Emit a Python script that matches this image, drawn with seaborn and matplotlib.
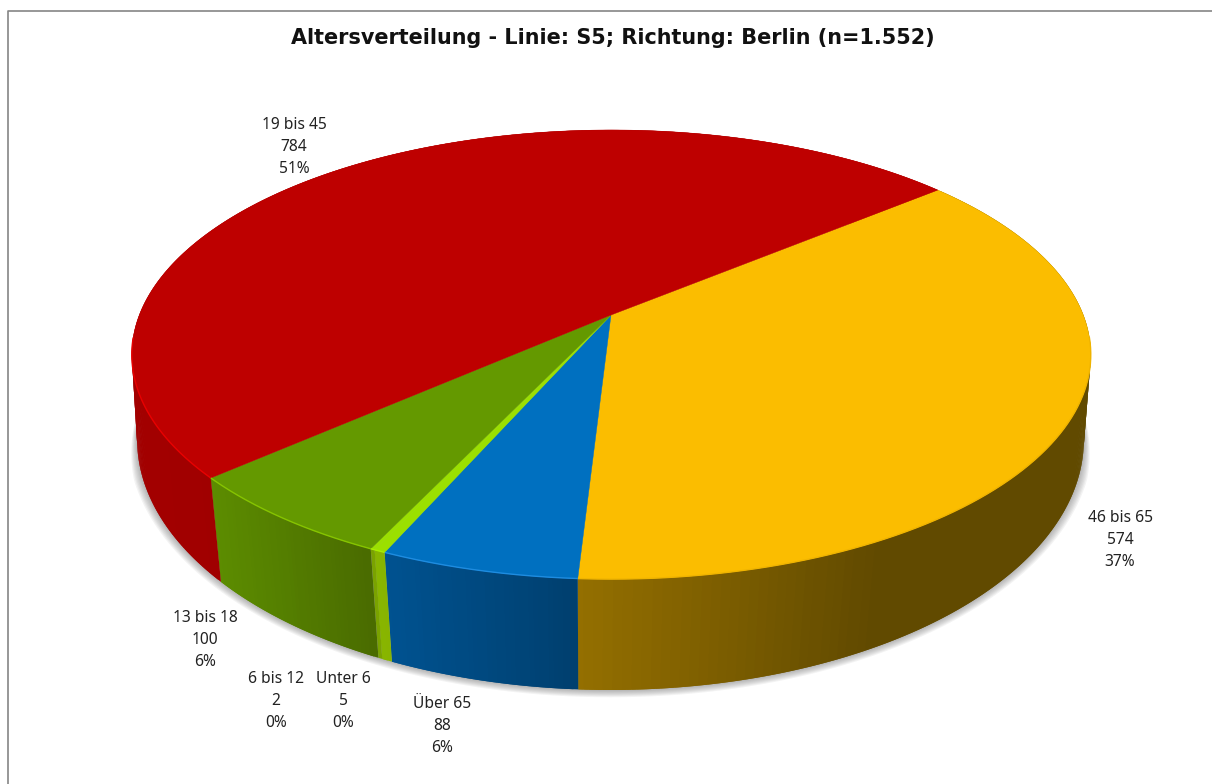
# Altersverteilung S5 - 3D pie drawn by hand, matplotlib has no perspective pie
import numpy as np
import seaborn as sns
import matplotlib.pyplot as plt

# Data, clockwise from the red/yellow border
categories = ["46 bis 65", "Über 65", "Unter 6", "6 bis 12", "13 bis 18", "19 bis 45"]
counts = [574, 88, 5, 2, 100, 784]
percents = [37, 6, 0, 0, 6, 51]
chart_title = "Altersverteilung - Linie: S5; Richtung: Berlin (n=1.552)"

# Colours per slice
top_colors = ["#FBBD00", "#0070C0", "#9BE000", "#9BE000", "#649900", "#BE0000"]
rim_colors = ["#F0B400", "#1E8CE0", "#A8EE00", "#A8EE00", "#86C400", "#E80000"]
side_left = ["#946F00", "#005290", "#88B600", "#7AA400", "#5C8C00", "#A80000"]
side_right = ["#614A00", "#003F6E", "#88B400", "#7AA000", "#4A6C00", "#A00000"]
side_span = [300, 195, 12, 12, 155, 260]

# Where the labels go (centre of the block, pixels)
label_x = [1120, 442, 343, 276, 205, 294]
label_y = [540, 726, 701, 701, 640, 147]

START_ANGLE = 50.3  # degrees clockwise from the back of the pie


def top_rim(t):
    u, v = np.sin(t), -np.cos(t)
    s = 1 / (1 - 0.176 * v)
    return 611.3 + 472 * u * s, 315 + 217.6 * v * s


def bottom_rim(t):
    u, v = np.sin(t), -np.cos(t)
    s = 1 / (1 - 0.15 * v)
    return 610.5 + 468 * u * s, 402.2 + 244.6 * v * s


sns.set_theme(style="white")
plt.rcParams["font.family"] = ["Noto Sans", "DejaVu Sans"]

fig = plt.figure(figsize=(12.12, 7.84), dpi=100, facecolor="white")
ax = fig.add_axes([0, 0, 1, 1])
ax.set_xlim(0, 1212)
ax.set_ylim(784, 0)
ax.axis("off")

# frame of the chart area, only top and left show
ax.plot([7.5, 7.5, 1212], [784, 10.5, 10.5], color="#858585", lw=1.2)

# soft shadow below the pie, fades out towards the sides
circle = np.linspace(0, 2 * np.pi, 361)
sx, sy = bottom_rim(circle)
fade = np.clip((-np.cos(circle) + 0.05) / 0.35, 0, 1)
for d in np.arange(7, 0, -1):
    ax.fill(610.5 + (sx - 610.5) * (473 + 1.3 * d * fade) / 473,
            440 + (sy - 440) * (240 + d * fade) / 240,
            color="#555555", alpha=0.07, lw=0)

# slice borders come from the counts
shares = np.array(counts) / sum(counts)
edges = np.radians(START_ANGLE + 360 * np.concatenate([[0], np.cumsum(shares)]))

# side walls, each strip overlaps the next so no seams show
for i in range(len(counts)):
    ts = np.arange(edges[i], edges[i + 1], np.radians(0.5))
    ts = np.append(ts, edges[i + 1])
    ramp = sns.blend_palette([side_left[i], side_right[i]], n_colors=32)
    x_start = top_rim(edges[i + 1])[0] if i < 5 else top_rim(edges[5])[0]
    for j in range(len(ts) - 1):
        strip = ts[j:j + 3]
        xa, ya = top_rim(strip)
        xb, yb = bottom_rim(strip[::-1])
        if i == 5:
            pos = 1 - abs(xa[0] - x_start) / side_span[i]
        else:
            pos = (xa[0] - x_start) / side_span[i]
        col = ramp[int(np.clip(pos, 0, 1) * 31)]
        ax.fill(np.r_[xa, xb], np.r_[ya, yb], color=col, lw=0)

# top face
for i in range(len(counts)):
    ts = np.linspace(edges[i], edges[i + 1], 200)
    x, y = top_rim(ts)
    ax.fill(np.r_[611, x], np.r_[315, y], color=top_colors[i],
            ec=top_colors[i], lw=0.3)

# thin bright edge along the front of the top face
for i in range(len(counts)):
    ts = np.linspace(edges[i], edges[i + 1], 200)
    ts = ts[-np.cos(ts) > 0.1]
    if len(ts) > 1:
        x, y = top_rim(ts)
        ax.plot(x, y, color=rim_colors[i], lw=1.0, solid_capstyle="butt")

# labels
for i in range(len(counts)):
    ax.text(label_x[i], label_y[i],
            f"{categories[i]}\n{counts[i]}\n{percents[i]}%",
            ha="center", va="center", fontsize=11.2, linespacing=1.46, color="#222222")

ax.text(612.5, 38, chart_title, ha="center", va="center", family="DejaVu Sans",
        fontsize=14.95, fontweight="bold", color="#111111")

fig.savefig("out.png", dpi=100)
